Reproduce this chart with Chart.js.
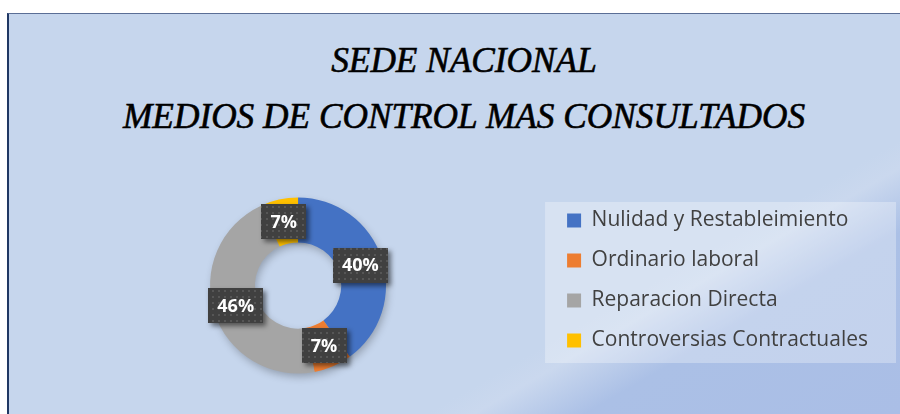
<!DOCTYPE html>
<html lang="es">
<head>
<meta charset="utf-8">
<title>Sede Nacional - Medios de control mas consultados</title>
<script src="https://cdn.jsdelivr.net/npm/chart.js@4.4.1/dist/chart.umd.min.js"></script>
<style>
  html, body { margin: 0; padding: 0; background: #fff; }
  body { width: 900px; height: 414px; position: relative; overflow: hidden; }
  .marco {
    position: absolute; left: 7px; top: 13px; width: 891px; height: 401px;
    border-left: 2px solid #203864; border-top: 1px solid #5a6e96;
    background: linear-gradient(150deg, #c6d6ed 0%, #c6d6ed 70%, #cad8ee 73%, #abc0e6 80%, #aabee6 100%);
  }
  .titulo {
    position: absolute; left: 0; top: 32px; width: 928px; text-align: center;
    font: italic 36px/56px "Liberation Serif", serif; color: #000;
    -webkit-text-stroke: 0.6px #000;
    transform: scaleX(0.98); transform-origin: 464px 0;
  }
  .lienzo { position: absolute; left: 0; top: 0; width: 900px; height: 414px; }
</style>
</head>
<body>
<div class="marco"></div>
<div class="titulo">SEDE NACIONAL<br>MEDIOS DE CONTROL MAS CONSULTADOS</div>
<div class="lienzo"><canvas id="grafico"></canvas></div>
<script>
  // datos del grafico
  const categorias = ['Nulidad y Restableimiento', 'Ordinario laboral', 'Reparacion Directa', 'Controversias Contractuales'];
  const porcentajes = [40, 7, 46, 7];
  const colores = ['#4472c4', '#ed7d31', '#a5a5a5', '#ffc000'];

  // trama punteada de las etiquetas
  const trama = document.createElement('canvas');
  trama.width = 6; trama.height = 6;
  const tctx = trama.getContext('2d');
  tctx.fillStyle = '#404040';
  tctx.fillRect(0, 0, 6, 6);
  tctx.fillStyle = '#565656';
  tctx.fillRect(2, 2, 2, 2);

  // sombra del anillo
  const sombraAnillo = {
    id: 'sombraAnillo',
    beforeDatasetsDraw(chart) {
      const arc = chart.getDatasetMeta(0).data[0];
      if (!arc) return;
      const {x, y, outerRadius, innerRadius} = arc.getProps(['x', 'y', 'outerRadius', 'innerRadius'], true);
      const ctx = chart.ctx;
      ctx.save();
      ctx.shadowColor = 'rgba(0,0,0,0.28)';
      ctx.shadowBlur = 9;
      ctx.shadowOffsetX = 2;
      ctx.shadowOffsetY = 4;
      ctx.fillStyle = '#a5a5a5';
      ctx.beginPath();
      ctx.arc(x, y, outerRadius - 1, 0, Math.PI * 2);
      ctx.arc(x, y, innerRadius + 1, 0, Math.PI * 2, true);
      ctx.fill();
      ctx.restore();
    }
  };

  // etiquetas de porcentaje
  const etiquetas = {
    id: 'etiquetas',
    afterDatasetsDraw(chart) {
      const ctx = chart.ctx;
      const meta = chart.getDatasetMeta(0);
      const patron = ctx.createPattern(trama, 'repeat');
      ctx.save();
      ctx.font = 'bold 18px "Open Sans"';
      ctx.textAlign = 'center';
      ctx.textBaseline = 'middle';
      meta.data.forEach((arc, i) => {
        const {x, y} = arc.getCenterPoint();
        const txt = porcentajes[i] + '%';
        const w = ctx.measureText(txt).width + 18;
        const h = 35;
        ctx.save();
        ctx.shadowColor = 'rgba(0,0,0,0.5)';
        ctx.shadowBlur = 5;
        ctx.shadowOffsetX = 3;
        ctx.shadowOffsetY = 3;
        ctx.fillStyle = patron;
        ctx.fillRect(Math.round(x - w / 2), Math.round(y - h / 2), Math.round(w), h);
        ctx.restore();
        ctx.fillStyle = '#ffffff';
        ctx.fillText(txt, x, y + 1);
      });
      ctx.restore();
    }
  };

  // recuadro claro detras de la leyenda
  const fondoLeyenda = {
    id: 'fondoLeyenda',
    afterDraw(chart) {
      const cajas = chart.legend && chart.legend.legendHitBoxes;
      if (!cajas || !cajas.length) return;
      const primera = cajas[0];
      const ultima = cajas[cajas.length - 1];
      const ctx = chart.ctx;
      const x0 = primera.left - 22;
      const y0 = primera.top - 8;
      const y1 = ultima.top + ultima.height + 12;
      ctx.save();
      ctx.globalCompositeOperation = 'destination-over';
      ctx.fillStyle = 'rgba(255,255,255,0.3)';
      ctx.fillRect(x0, y0, chart.width - 4 - x0, y1 - y0);
      ctx.restore();
    }
  };

  new Chart(document.getElementById('grafico'), {
    type: 'doughnut',
    data: {
      labels: categorias,
      datasets: [{
        data: porcentajes,
        backgroundColor: colores,
        borderWidth: 0,
        radius: 88,
        cutout: '49%'
      }]
    },
    options: {
      responsive: true,
      maintainAspectRatio: false,
      animation: false,
      layout: { padding: { left: 48, right: 22, top: 191, bottom: 34 } },
      plugins: {
        legend: {
          position: 'right',
          align: 'start',
          labels: {
            font: { family: 'Open Sans', size: 21 },
            color: '#404040',
            boxWidth: 14,
            boxHeight: 14,
            padding: 19
          }
        },
        tooltip: { enabled: false },
        title: { display: false }
      }
    },
    plugins: [sombraAnillo, etiquetas, fondoLeyenda]
  });
</script>
</body>
</html>
